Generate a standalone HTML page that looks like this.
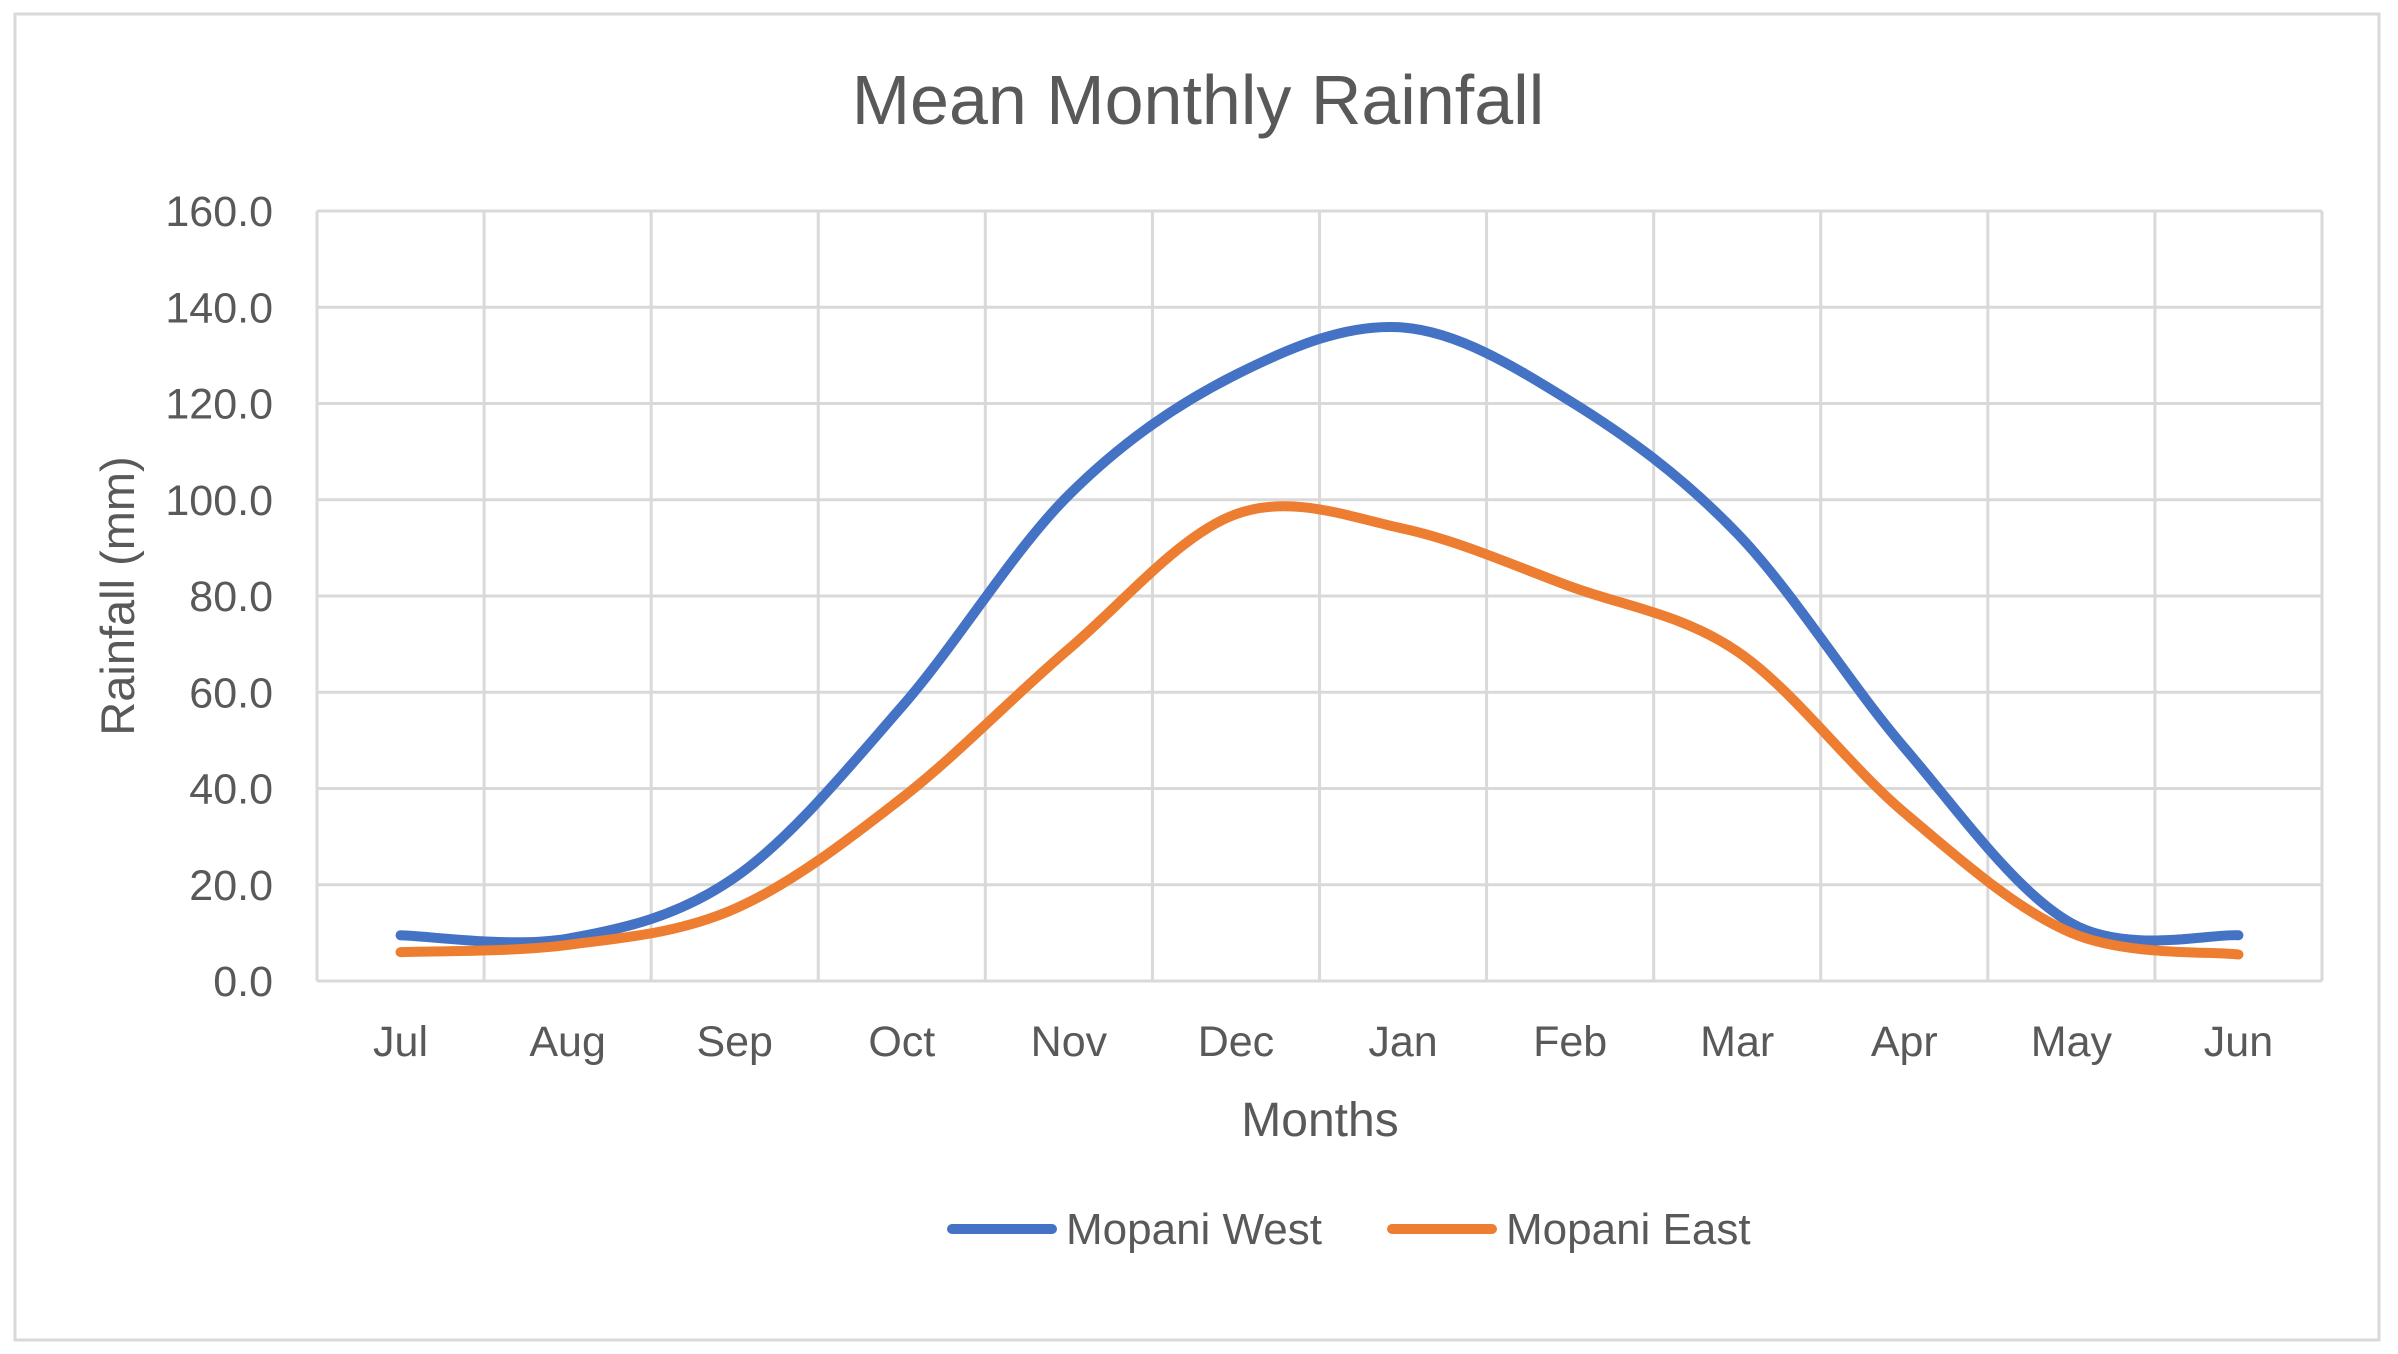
<!DOCTYPE html>
<html><head><meta charset="utf-8"><style>
html,body{margin:0;padding:0;background:#fff;}
svg{display:block;font-family:"Liberation Sans",sans-serif;}
</style></head><body>
<svg id="chart" width="2398" height="1354" viewBox="0 0 2398 1354" xmlns="http://www.w3.org/2000/svg">
<rect x="15" y="14" width="2364" height="1326" fill="#fff" stroke="#d9d9d9" stroke-width="3"/>
<text x="1198" y="124" text-anchor="middle" font-size="70" fill="#595959">Mean Monthly Rainfall</text>
<g id="grid"></g>
<g id="yticks"></g>
<g id="xticks"></g>
<g id="series"></g>
<text transform="translate(134,596) rotate(-90)" text-anchor="middle" font-size="47" fill="#595959">Rainfall (mm)</text>
<text x="1320" y="1136" text-anchor="middle" font-size="48" fill="#595959">Months</text>
<g>
<line x1="952" y1="1229" x2="1052" y2="1229" stroke="#4472c4" stroke-width="10" stroke-linecap="round"/>
<text x="1066" y="1244" font-size="44" fill="#595959">Mopani West</text>
<line x1="1392" y1="1229" x2="1492" y2="1229" stroke="#ed7d31" stroke-width="10" stroke-linecap="round"/>
<text x="1506" y="1244" font-size="44" fill="#595959">Mopani East</text>
</g>
</svg>
<script>
const months = ["Jul","Aug","Sep","Oct","Nov","Dec","Jan","Feb","Mar","Apr","May","Jun"];
const westValues = [9.5, 8.8, 21.5, 57, 101, 126, 135.8, 120.5, 93, 48.5, 12, 9.5];
const eastValues = [6, 7.5, 15, 38, 69, 97, 94, 82, 68.5, 35, 10, 5.5];
const yTicks = [0,20,40,60,80,100,120,140,160];
const yTickLabels = ["0.0","20.0","40.0","60.0","80.0","100.0","120.0","140.0","160.0"];

const NS="http://www.w3.org/2000/svg";
const L=317, R=2322, T=211, B=981, yMax=160;
const band=(R-L)/months.length;
const xPos=i=>L+band*(i+0.5);
const yPos=v=>B-(v/yMax)*(B-T);
function mk(tag,attrs,parent){const e=document.createElementNS(NS,tag);for(const k in attrs)e.setAttribute(k,attrs[k]);parent.appendChild(e);return e;}
const grid=document.getElementById('grid'), yt=document.getElementById('yticks'), xt=document.getElementById('xticks'), ser=document.getElementById('series');
yTicks.forEach((v,i)=>{
  const g=mk('line',{x1:L,x2:R,y1:yPos(v),y2:yPos(v),stroke:'#d9d9d9','stroke-width':3},grid);
  
  
  const t=mk('text',{x:273,y:yPos(v)+15,'text-anchor':'end','font-size':43,fill:'#595959'},yt);
  t.textContent=yTickLabels[i];
  
  
});
for(let i=0;i<=months.length;i++){
  const x=L+band*i;
  const g=mk('line',{x1:x,x2:x,y1:T,y2:B,stroke:'#d9d9d9','stroke-width':3},grid);
  
  
}
months.forEach((m,i)=>{
  const t=mk('text',{x:xPos(i),y:1056,'text-anchor':'middle','font-size':43,fill:'#595959'},xt);
  t.textContent=m;
  
  
});
function smooth(vals){
  const p=vals.map((v,i)=>[xPos(i),yPos(v)]);
  let d=`M${p[0][0]},${p[0][1]}`;
  for(let i=0;i<p.length-1;i++){
    const p0=p[Math.max(i-1,0)],p1=p[i],p2=p[i+1],p3=p[Math.min(i+2,p.length-1)];
    const c1=[p1[0]+(p2[0]-p0[0])/6,p1[1]+(p2[1]-p0[1])/6];
    const c2=[p2[0]-(p3[0]-p1[0])/6,p2[1]-(p3[1]-p1[1])/6];
    d+=` C${c1[0]},${c1[1]} ${c2[0]},${c2[1]} ${p2[0]},${p2[1]}`;
  }
  return d;
}
const w=mk('path',{d:smooth(westValues),fill:'none',stroke:'#4472c4','stroke-width':10,'stroke-linecap':'round','stroke-linejoin':'round'},ser);


const e=mk('path',{d:smooth(eastValues),fill:'none',stroke:'#ed7d31','stroke-width':10,'stroke-linecap':'round','stroke-linejoin':'round'},ser);


</script>
</body></html>
